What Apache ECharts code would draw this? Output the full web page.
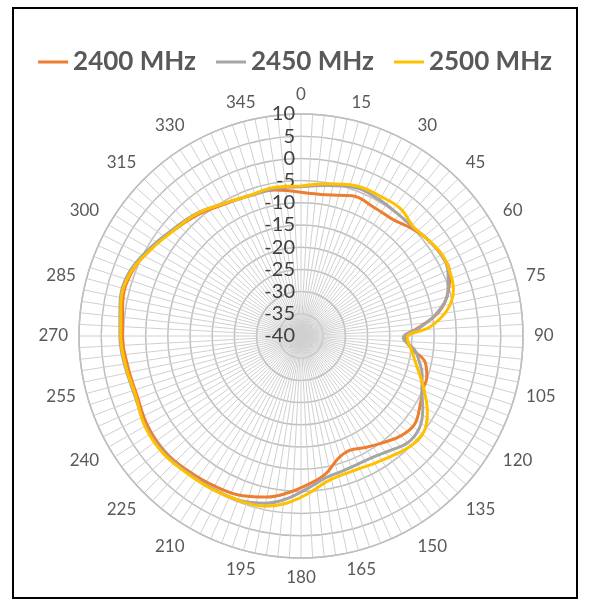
<!DOCTYPE html>
<html><head><meta charset="utf-8">
<script src="https://cdn.jsdelivr.net/npm/echarts@6/dist/echarts.min.js"></script>
<style>
html,body{margin:0;padding:0;background:#fff;}
#frame{position:absolute;left:12px;top:7px;width:562px;height:588px;border:2.5px solid #000;}
#c{position:absolute;left:0;top:0;width:590px;height:605px;}
</style></head>
<body>
<div id="frame"></div>
<div id="c"></div>
<script>
const seriesNames = ['2400 MHz', '2450 MHz', '2500 MHz'];
const seriesColors = ['#ED7D31', '#A5A5A5', '#FFC000'];
const angles = [0, 10, 20, 30, 38, 46, 52, 60, 67, 73, 80, 86, 91, 97, 102, 108, 114, 121, 128, 135, 142, 150, 157, 163, 170, 177, 185, 192, 200, 210, 220, 230, 240, 250, 260, 270, 280, 290, 300, 310, 320, 330, 340, 350, 360];
const gain2400 = [-7.6, -7.7, -6.4, -6.7, -6.6, -5.2, -4.2, -3.5, -3.6, -5.3, -8.4, -13.5, -16.6, -14.6, -11.4, -10.2, -10.0, -8.8, -7.6, -8.2, -9.6, -11.0, -12.0, -11.2, -8.4, -6.6, -4.5, -2.9, -1.7, -1.0, -0.4, 0.3, 0.0, -0.7, -0.4, 0.2, 0.8, 0.8, -0.9, -2.8, -4.2, -5.7, -6.3, -6.6, -7.6];
const gain2450 = [-6.4, -5.6, -4.4, -4.6, -4.9, -4.8, -4.2, -3.5, -4.0, -5.4, -8.7, -13.2, -17.0, -14.2, -12.8, -11.3, -10.2, -8.0, -6.2, -6.0, -7.3, -8.3, -8.4, -8.2, -7.6, -5.8, -3.2, -1.5, -0.5, -0.3, 0.0, 0.6, 0.5, -0.3, 0.2, 0.8, 1.4, 1.3, -0.6, -2.5, -3.8, -5.5, -6.4, -6.3, -6.4];
const gain2500 = [-6.2, -5.2, -4.0, -3.8, -3.6, -4.7, -4.2, -3.3, -3.5, -4.1, -6.6, -10.9, -16.1, -15.0, -13.8, -11.9, -9.6, -6.8, -4.9, -5.0, -6.0, -6.9, -7.4, -7.4, -6.7, -4.6, -2.2, -0.8, -0.4, -0.1, 0.2, 0.8, 0.6, -0.4, 0.0, 0.6, 1.2, 1.0, -1.0, -2.8, -3.9, -5.5, -6.3, -6.0, -6.2];
const allGains = [gain2400, gain2450, gain2500];
const radiusMin = -40, radiusMax = 10, radiusStep = 5;
const angleStep = 15;

const chart = echarts.init(document.getElementById('c'));
const FONT = 'Lato';
chart.setOption({
  animation: false,
  legend: {
    top: 44, left: 'center',
    icon: 'rect', itemWidth: 30, itemHeight: 3, itemGap: 20,
    textStyle: { color: '#595959', fontSize: 26, fontWeight: 'bold', fontFamily: FONT },
    data: seriesNames
  },
  polar: { center: [301, 336], radius: 222 },
  angleAxis: {
    type: 'value', min: 0, max: 360, interval: angleStep,
    startAngle: 90, clockwise: true,
    axisLine: { show: true, lineStyle: { color: '#bfbfbf', width: 1.5 } },
    axisTick: { show: false },
    axisLabel: { color: '#595959', fontSize: 17, fontFamily: FONT, margin: 11,
      formatter: v => (v === 360 ? '' : String(v)) },
    splitLine: { show: true, lineStyle: { color: '#d0d0d0', width: 1 } },
    minorTick: { show: false, splitNumber: 5 },
    minorSplitLine: { show: true, lineStyle: { color: '#d0d0d0', width: 1 } }
  },
  radiusAxis: {
    type: 'value', min: radiusMin, max: radiusMax, interval: radiusStep,
    axisLine: { show: false }, axisTick: { show: false },
    axisLabel: { color: '#404040', fontSize: 20, fontFamily: FONT, margin: 6 },
    splitLine: { show: true, lineStyle: { color: '#bfbfbf', width: 1.5 } }
  },
  series: seriesNames.map((name, i) => ({
    name, type: 'line', coordinateSystem: 'polar',
    showSymbol: false, smooth: 0.4,
    color: seriesColors[i],
    lineStyle: { width: 3, color: seriesColors[i] },
    data: angles.map((a, k) => [allGains[i][k], a])
  }))
});
</script>
</body></html>
